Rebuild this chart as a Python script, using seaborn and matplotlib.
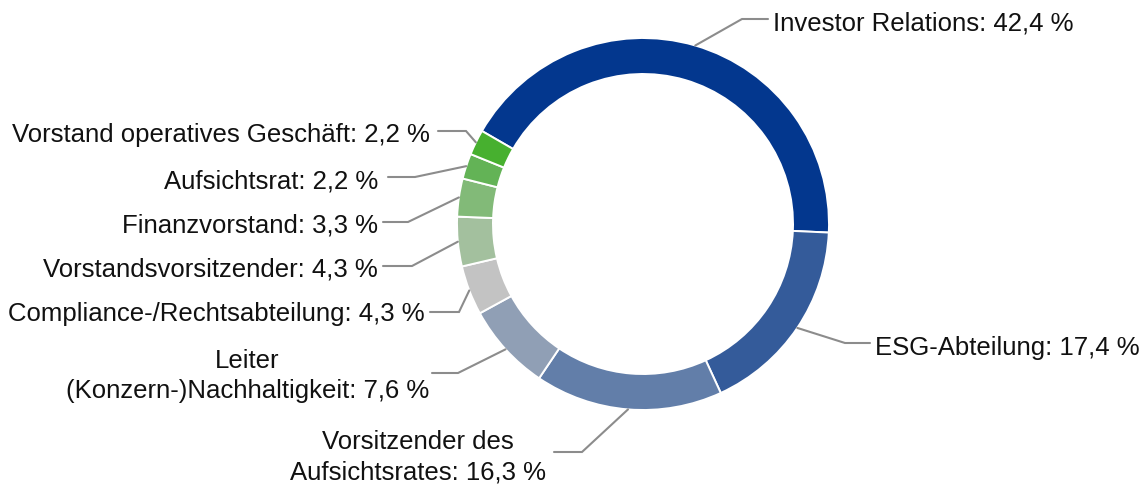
import numpy as np
import matplotlib
matplotlib.use("Agg")
import matplotlib.pyplot as plt
import seaborn as sns

# ---- data ----
categories = [
    "Investor Relations",
    "ESG-Abteilung",
    "Vorsitzender des\nAufsichtsrates",
    "Leiter\n(Konzern-)Nachhaltigkeit",
    "Compliance-/Rechtsabteilung",
    "Vorstandsvorsitzender",
    "Finanzvorstand",
    "Aufsichtsrat",
    "Vorstand operatives Geschäft",
]
values = [42.4, 17.4, 16.3, 7.6, 4.3, 4.3, 3.3, 2.2, 2.2]
colors = ["#03378E", "#345B9A", "#627EA9", "#909FB5", "#C3C3C3",
          "#A3C09E", "#82BA78", "#63B356", "#47B02F"]

# ---- layout (pixel coordinates, y measured from top) ----
W, H = 1147, 487
center_px = (643, 224)
r_out, ring_w = 186, 36
# (elbow x, elbow y, line end x, text x, text y, ha)
label_layout = [
    (742, 19, 768, 773, 24, "left"),
    (845, 343, 870, 875, 348, "left"),
    (582, 452, 554, 546, 457, "right"),
    (458, 373, 432, 429, 376, "right"),
    (459, 312, 430, 425, 314, "right"),
    (412, 266, 383, 378, 270, "right"),
    (408, 222, 383, 378, 225, "right"),
    (415, 177, 388, 378, 181, "right"),
    (466, 131, 438, 430, 135, "right"),
]

sns.set_theme(style="white")
plt.rcParams["font.family"] = ["Liberation Sans", "DejaVu Sans"]

fig = plt.figure(figsize=(W / 100, H / 100), dpi=100)
ax = fig.add_axes([0, 0, 1, 1])

def py(y):
    return H - y

cx, cy = center_px[0], py(center_px[1])
wedges, _ = ax.pie(
    values, colors=colors, startangle=150, counterclock=False,
    radius=r_out, center=(cx, cy),
    wedgeprops=dict(width=ring_w, edgecolor="white", linewidth=1.4),
)

line_color = "#8C8C8C"
for w, name, val, lay in zip(wedges, categories, values, label_layout):
    ex, ey, lx, tx, ty, ha = lay
    mid = np.deg2rad((w.theta1 + w.theta2) / 2)
    sx, sy = cx + r_out * np.cos(mid), cy + r_out * np.sin(mid)
    ax.plot([sx, ex, lx], [sy, py(ey), py(ey)], color=line_color, lw=1.5,
            solid_joinstyle="miter", zorder=1)
    label = f"{name}: {val:.1f} %".replace(".", ",")
    ax.text(tx, py(ty), label, ha=ha, va="center", multialignment="center",
            fontsize=18.5, color="#111111", linespacing=1.35)

ax.set_xlim(0, W)
ax.set_ylim(0, H)
ax.set_aspect("equal")
ax.set_axis_off()
fig.savefig("out.png", dpi=100, facecolor="white")
